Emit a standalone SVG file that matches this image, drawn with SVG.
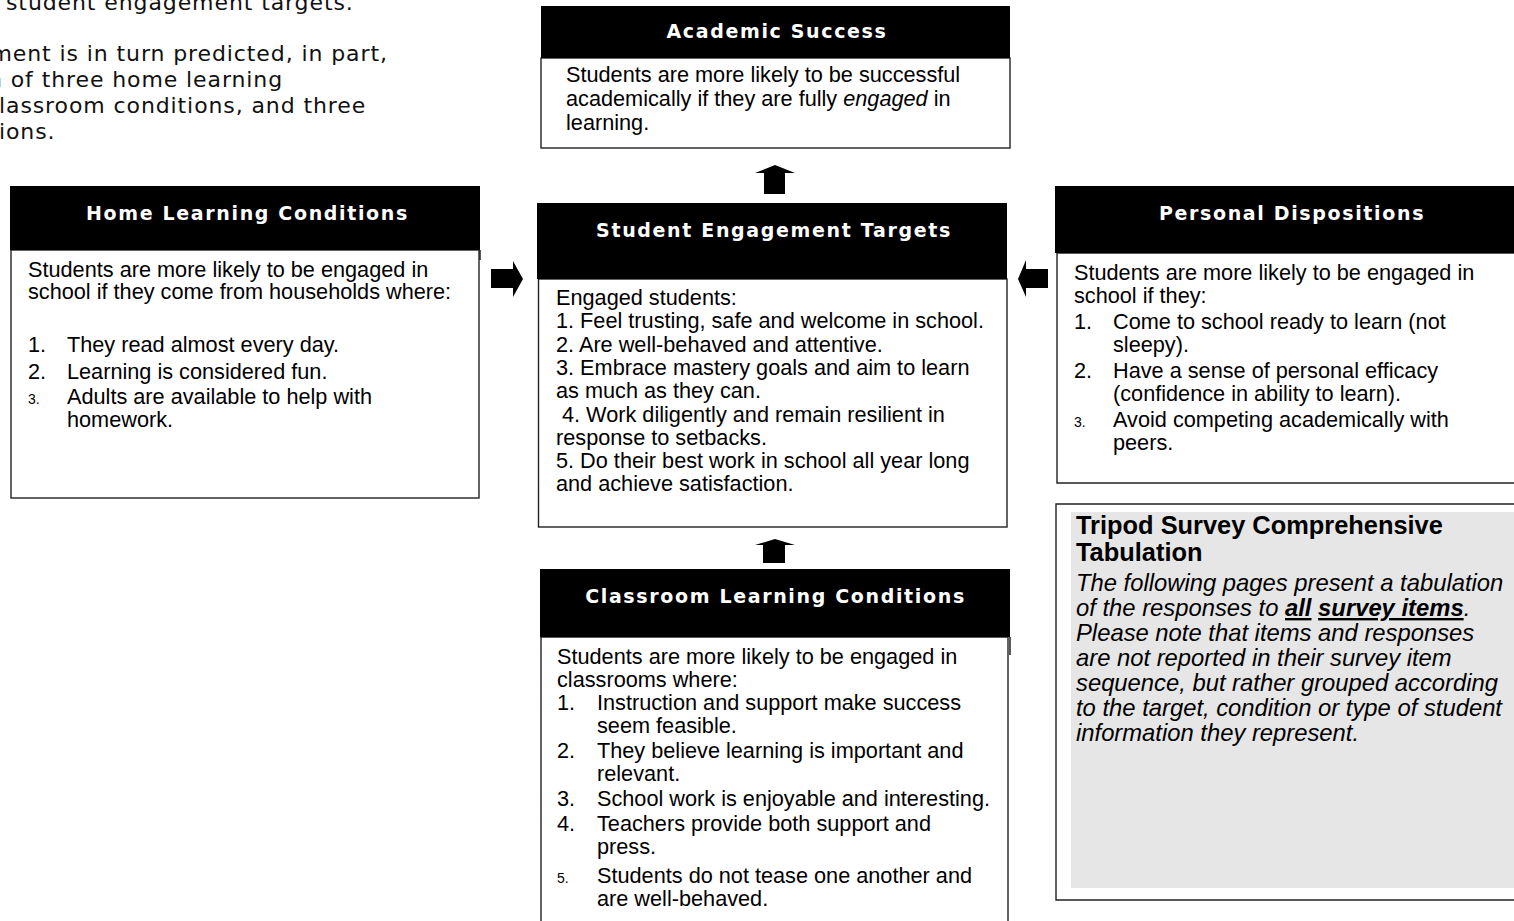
<svg xmlns="http://www.w3.org/2000/svg" width="1514" height="921" viewBox="0 0 1514 921">
<style>
.hdr{fill:#000}
.body{fill:#fff;stroke:#222;stroke-width:1.4}
.ttl{font-family:"DejaVu Sans",Verdana,sans-serif;font-weight:bold;font-size:19px;letter-spacing:1.65px;fill:#fff;text-anchor:middle}
.tx{font-family:"Liberation Sans",Arial,sans-serif;font-size:21.7px;fill:#000}
.sm{font-size:14px}
.intro{font-family:"DejaVu Sans",Verdana,sans-serif;font-size:22px;letter-spacing:0.9px;fill:#111}
.arr{fill:#000}
.tt{font-family:"Liberation Sans",Arial,sans-serif;font-weight:bold;font-size:25.4px;fill:#000}
.it{font-family:"Liberation Sans",Arial,sans-serif;font-style:italic;font-size:23.8px;fill:#000}
</style>
<rect width="1514" height="921" fill="#fff"/>
<g id="intro">
<text class="intro" x="6" y="10">student engagement targets.</text>
<text class="intro" x="-9.5" y="61">ment is in turn predicted, in part,</text>
<text class="intro" x="-12" y="87">n of three home learning</text>
<text class="intro" x="-1" y="113">lassroom conditions, and three</text>
<text class="intro" x="-1" y="139">ions.</text>
</g>
<g id="academic-success">
<rect class="body" x="541" y="58" width="469" height="90"/>
<rect class="hdr" x="541" y="6" width="469" height="52"/>
<text class="ttl" x="777" y="37.5">Academic Success</text>
<text class="tx" x="566" y="82">Students are more likely to be successful</text>
<text class="tx" x="566" y="106">academically if they are fully <tspan font-style="italic">engaged</tspan> in</text>
<text class="tx" x="566" y="130">learning.</text>
</g>
<g id="student-engagement-targets">
<rect class="body" x="538.5" y="279" width="468.5" height="248"/>
<rect class="hdr" x="537" y="203" width="470" height="76"/>
<text class="ttl" x="774" y="237">Student Engagement Targets</text>
<text class="tx" x="556" y="305">Engaged students:</text>
<text class="tx" x="556" y="328.3">1. Feel trusting, safe and welcome in school.</text>
<text class="tx" x="556" y="351.6">2. Are well-behaved and attentive.</text>
<text class="tx" x="556" y="374.9">3. Embrace mastery goals and aim to learn</text>
<text class="tx" x="556" y="398.2">as much as they can.</text>
<text class="tx" x="562" y="421.5">4. Work diligently and remain resilient in</text>
<text class="tx" x="556" y="444.8">response to setbacks.</text>
<text class="tx" x="556" y="468.1">5. Do their best work in school all year long</text>
<text class="tx" x="556" y="491.4">and achieve satisfaction.</text>
</g>
<g id="home-learning-conditions">
<rect class="body" x="11" y="250" width="468" height="248"/>
<rect class="hdr" x="10" y="186" width="470" height="64"/>
<line x1="480" y1="250" x2="480" y2="260" stroke="#222" stroke-width="1.5"/>
<text class="ttl" x="247.5" y="219.5">Home Learning Conditions</text>
<text class="tx" x="28" y="277">Students are more likely to be engaged in</text>
<text class="tx" x="28" y="299">school if they come from households where:</text>
<text class="tx" x="28" y="352">1.</text><text class="tx" x="67" y="352">They read almost every day.</text>
<text class="tx" x="28" y="379">2.</text><text class="tx" x="67" y="379">Learning is considered fun.</text>
<text class="tx sm" x="28" y="404">3.</text><text class="tx" x="67" y="404">Adults are available to help with</text>
<text class="tx" x="67" y="427">homework.</text>
</g>
<g id="personal-dispositions">
<path class="body" d="M1520,253 L1057,253 L1057,483 L1520,483"/>
<rect class="hdr" x="1055" y="186" width="465" height="67"/>
<text class="ttl" x="1292" y="219.5">Personal Dispositions</text>
<text class="tx" x="1074" y="280">Students are more likely to be engaged in</text>
<text class="tx" x="1074" y="303">school if they:</text>
<text class="tx" x="1074" y="329">1.</text><text class="tx" x="1113" y="329">Come to school ready to learn (not</text>
<text class="tx" x="1113" y="352">sleepy).</text>
<text class="tx" x="1074" y="378">2.</text><text class="tx" x="1113" y="378">Have a sense of personal efficacy</text>
<text class="tx" x="1113" y="401">(confidence in ability to learn).</text>
<text class="tx sm" x="1074" y="427">3.</text><text class="tx" x="1113" y="427">Avoid competing academically with</text>
<text class="tx" x="1113" y="450">peers.</text>
</g>
<g id="classroom-learning-conditions">
<path class="body" d="M541,930 L541,637 L1008,637 L1008,930"/>
<rect class="hdr" x="540" y="569" width="470" height="68"/>
<line x1="1010" y1="637" x2="1010" y2="655" stroke="#222" stroke-width="1.5"/>
<text class="ttl" x="775.5" y="603">Classroom Learning Conditions</text>
<text class="tx" x="557" y="664">Students are more likely to be engaged in</text>
<text class="tx" x="557" y="687">classrooms where:</text>
<text class="tx" x="557" y="710">1.</text><text class="tx" x="597" y="710">Instruction and support make success</text>
<text class="tx" x="597" y="733">seem feasible.</text>
<text class="tx" x="557" y="758">2.</text><text class="tx" x="597" y="758">They believe learning is important and</text>
<text class="tx" x="597" y="781">relevant.</text>
<text class="tx" x="557" y="806">3.</text><text class="tx" x="597" y="806">School work is enjoyable and interesting.</text>
<text class="tx" x="557" y="831">4.</text><text class="tx" x="597" y="831">Teachers provide both support and</text>
<text class="tx" x="597" y="854">press.</text>
<text class="tx sm" x="557" y="883">5.</text><text class="tx" x="597" y="883">Students do not tease one another and</text>
<text class="tx" x="597" y="906">are well-behaved.</text>
</g>
<g id="tripod-note">
<path d="M1520,504 L1056,504 L1056,900 L1520,900" fill="#fff" stroke="#222" stroke-width="1.4"/>
<rect x="1071" y="512" width="450" height="376" fill="#e6e6e6"/>
<text class="tt" x="1076" y="534">Tripod Survey Comprehensive</text>
<text class="tt" x="1076" y="561">Tabulation</text>
<text class="it" x="1076" y="591">The following pages present a tabulation</text>
<text class="it" x="1076" y="616">of the responses to <tspan font-weight="bold" text-decoration="underline">all</tspan> <tspan font-weight="bold" text-decoration="underline">survey items</tspan>.</text>
<text class="it" x="1076" y="641">Please note that items and responses</text>
<text class="it" x="1076" y="666">are not reported in their survey item</text>
<text class="it" x="1076" y="691">sequence, but rather grouped according</text>
<text class="it" x="1076" y="716">to the target, condition or type of student</text>
<text class="it" x="1076" y="741">information they represent.</text>
</g>
<g id="connectors">
<polygon class="arr" points="764,194 764,173 755,173 775,165 795,173 785,173 785,194"/>
<polygon class="arr" points="763,563 763,545 755,545 775,539 795,545 785,545 785,563"/>
<polygon class="arr" points="491,269 513,269 513,261 523,279 513,297 513,288 491,288"/>
<polygon class="arr" points="1048,269 1026,269 1026,260 1018,279 1026,297 1026,288 1048,288"/>
</g>
</svg>
